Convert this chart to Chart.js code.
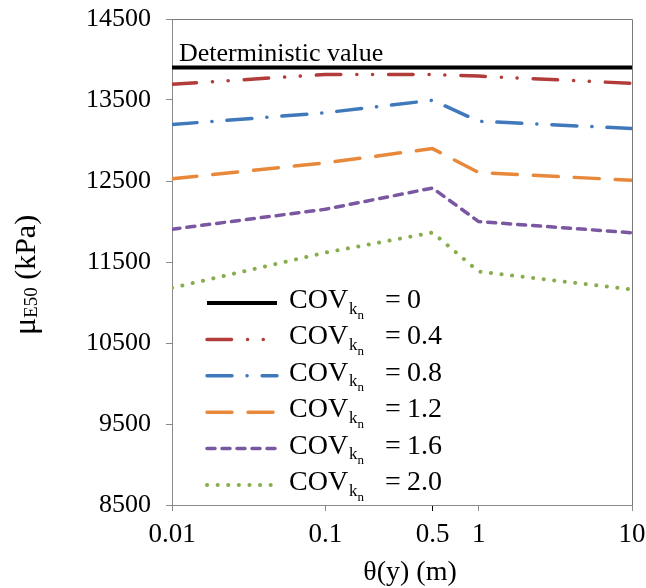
<!DOCTYPE html>
<html>
<head>
<meta charset="utf-8">
<script src="https://cdn.jsdelivr.net/npm/chart.js@4.4.1/dist/chart.umd.min.js"></script>
<style>
  html, body { margin: 0; padding: 0; background: #fff; }
  canvas { display: block; }
</style>
</head>
<body>
<canvas id="covChart" width="646" height="588"></canvas>
<script>
// --- data ---
const thetaY = [0.01, 0.1, 0.5, 1, 10];
const covLabels = ['0', '0.4', '0.8', '1.2', '1.6', '2.0'];
const cov00 = [13900, 13900, 13900, 13900, 13900];
const cov04 = [13695, 13815, 13815, 13795, 13705];
const cov08 = [13197, 13343, 13497, 13238, 13148];
const cov12 = [12528, 12724, 12900, 12604, 12509];
const cov16 = [11905, 12151, 12413, 11999, 11861];
const cov20 = [11181, 11616, 11864, 11382, 11160];
const xTickVals = [0.01, 0.1, 0.5, 1, 10];
const yTickVals = [8500, 9500, 10500, 11500, 12500, 13500, 14500];

const SERIF = '"Liberation Serif", "Times New Roman", serif';

// line looks per series (colour, width, dash, cap)
const styles = [
    { color: '#000000', width: 4,   dash: [],                          cap: 'butt' },
    { color: '#b23c3a', width: 3.5, dash: [24.5, 16, 0.1, 15.6, 0.1, 16], cap: 'round' },
    { color: '#3f78bb', width: 3.5, dash: [25, 15, 0.1, 15],           cap: 'round' },
    { color: '#e8883a', width: 3.5, dash: [25, 16],                    cap: 'round' },
    { color: '#7a57a0', width: 3.5, dash: [8, 7],                      cap: 'round' },
    { color: '#88ad4c', width: 4,   dash: [0.1, 10.5],                 cap: 'round' }
];

const seriesValues = [cov00, cov04, cov08, cov12, cov16, cov20];

const datasets = seriesValues.map((vals, i) => ({
    label: 'COV = ' + covLabels[i],
    data: vals.map((v, j) => ({ x: thetaY[j], y: v })),
    borderColor: styles[i].color,
    borderWidth: styles[i].width,
    borderDash: styles[i].dash,
    borderCapStyle: styles[i].cap,
    borderJoinStyle: 'round',
    pointRadius: 0,
    tension: 0,
    fill: false
}));

// texts, legend, titles and the plot-box border
const extrasPlugin = {
    id: 'extras',
    afterDraw(chart) {
        const ctx = chart.ctx;
        const area = chart.chartArea;
        const yScale = chart.scales.y;

        ctx.save();
        // top and right border of the plot box
        ctx.strokeStyle = '#7a7a7a';
        ctx.lineWidth = 1;
        ctx.beginPath();
        ctx.moveTo(area.left, area.top + 0.5);
        ctx.lineTo(area.right + 0.5, area.top + 0.5);
        ctx.lineTo(area.right + 0.5, area.bottom);
        ctx.stroke();

        // "Deterministic value" above the black line
        ctx.fillStyle = '#000';
        ctx.font = '26px ' + SERIF;
        ctx.textAlign = 'left';
        ctx.textBaseline = 'alphabetic';
        ctx.fillText('Deterministic value', area.left + 7, yScale.getPixelForValue(cov00[0]) - 7);

        // legend
        const legX0 = 207, legX1 = 277, textX = 289;
        styles.forEach((st, i) => {
            const ly = 303 + i * 36.4;
            ctx.strokeStyle = st.color;
            ctx.lineWidth = st.width;
            ctx.lineCap = st.cap;
            ctx.setLineDash(st.dash);
            ctx.beginPath();
            ctx.moveTo(legX0, ly);
            ctx.lineTo(legX1, ly);
            ctx.stroke();
            ctx.setLineDash([]);

            ctx.fillStyle = '#000';
            ctx.font = '28px ' + SERIF;
            ctx.fillText('COV', textX, ly + 5);
            let x = textX + ctx.measureText('COV').width + 1;
            ctx.font = '17px ' + SERIF;
            ctx.fillText('k', x, ly + 10.5);
            x += ctx.measureText('k').width;
            ctx.font = '13px ' + SERIF;
            ctx.fillText('n', x, ly + 15.5);
            ctx.font = '28px ' + SERIF;
            ctx.fillText('=', 385, ly + 5);
            ctx.fillText(covLabels[i], 407, ly + 5);
        });

        // x axis title
        ctx.font = '28px ' + SERIF;
        ctx.textAlign = 'center';
        ctx.fillText('\u03b8(y) (m)', 410, 580);

        // y axis title, rotated, with subscript
        ctx.translate(35, 275);
        ctx.rotate(-Math.PI / 2);
        const mainF = '32px ' + SERIF, subF = '19px ' + SERIF, restF = '30px ' + SERIF;
        ctx.font = mainF; const wMu = ctx.measureText('\u03bc').width;
        ctx.font = subF; const wSub = ctx.measureText('E50').width;
        ctx.font = restF; const wRest = ctx.measureText(' (kPa)').width;
        let tx = -(wMu + wSub + wRest) / 2;
        ctx.textAlign = 'left';
        ctx.font = mainF; ctx.fillText('\u03bc', tx, 0); tx += wMu;
        ctx.font = subF; ctx.fillText('E50', tx, 2); tx += wSub;
        ctx.font = restF; ctx.fillText(' (kPa)', tx, 0);
        ctx.restore();
    }
};

new Chart(document.getElementById('covChart').getContext('2d'), {
    type: 'line',
    data: { datasets: datasets },
    plugins: [extrasPlugin],
    options: {
        responsive: false,
        animation: false,
        layout: { padding: { top: 19, right: 14, left: 0, bottom: 0 } },
        plugins: {
            legend: { display: false },
            tooltip: { enabled: false }
        },
        scales: {
            x: {
                type: 'logarithmic',
                min: 0.01,
                max: 10,
                afterBuildTicks: (scale) => { scale.ticks = xTickVals.map(v => ({ value: v })); },
                afterFit: (scale) => {
                    scale.height = 83;
                    scale.paddingLeft = 0;
                    scale.paddingRight = 0;
                },
                ticks: {
                    autoSkip: false,
                    maxRotation: 0,
                    padding: 8,
                    color: '#000',
                    font: { family: SERIF, size: 27 },
                    callback: (v) => String(v)
                },
                grid: {
                    drawOnChartArea: false,
                    drawTicks: true,
                    tickLength: 6,
                    color: (c) => (c.tick && c.tick.value === 0.5 ? '#000' : '#8a8a8a')
                },
                border: { display: true, color: '#8a8a8a', width: 1 }
            },
            y: {
                min: 8500,
                max: 14500,
                afterBuildTicks: (scale) => { scale.ticks = yTickVals.map(v => ({ value: v })); },
                afterFit: (scale) => {
                    scale.width = 172;
                    scale.paddingTop = 0;
                    scale.paddingBottom = 0;
                },
                ticks: {
                    padding: 15,
                    color: '#000',
                    font: { family: SERIF, size: 26 },
                    callback: (v) => String(v)
                },
                grid: {
                    drawOnChartArea: false,
                    drawTicks: true,
                    tickLength: 6,
                    color: '#8a8a8a'
                },
                border: { display: true, color: '#8a8a8a', width: 1 }
            }
        }
    }
});
</script>
</body>
</html>
